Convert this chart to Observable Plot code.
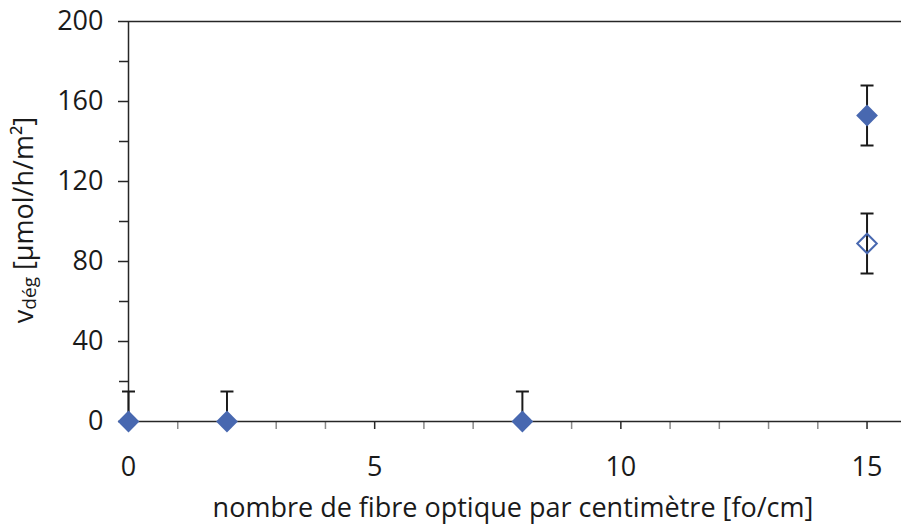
<!DOCTYPE html>
<html><head><meta charset="utf-8">
<script src="https://cdn.jsdelivr.net/npm/d3@7"></script>
<script src="https://cdn.jsdelivr.net/npm/@observablehq/plot@0.6"></script>
<style>
html,body{margin:0;padding:0;background:#fff;}
#chart svg{font-family:"Open Sans",sans-serif;}
</style>
</head><body><div id="chart"></div>
<script>
// Data
const fibres = [0, 2, 8, 15];
const vFilled = [0, 0, 0, 153];
const errPlusFilled = [15, 15, 15, 15];
const errMinusFilled = [0, 0, 0, 15];
const fibresOpen = [15];
const vOpen = [89];
const errOpen = [15];
const yMajorTicks = [0, 40, 80, 120, 160, 200];
const yMinorTicks = [20, 60, 100, 140, 180];
const xMajorTicks = [0, 5, 10, 15];
const xMinorTicks = [1, 2, 3, 4, 6, 7, 8, 9, 11, 12, 13, 14];
const xTitle = "nombre de fibre optique par centimètre [fo/cm]";

const filled = fibres.map((x, i) => ({x, y: vFilled[i], hi: vFilled[i] + errPlusFilled[i], lo: vFilled[i] - errMinusFilled[i]}));
const open = fibresOpen.map((x, i) => ({x, y: vOpen[i], hi: vOpen[i] + errOpen[i], lo: vOpen[i] - errOpen[i]}));
const bars = filled.concat(open);
const caps = [];
bars.forEach(d => { caps.push({x: d.x, y: d.hi}); if (d.lo < d.y) caps.push({x: d.x, y: d.lo}); });

const capSymbol = {draw(ctx, size) { ctx.moveTo(-6.5, 0); ctx.lineTo(6.5, 0); }};
const blue = "#4868B0";
const axisColor = "#262626";
const fs = 27;

const chart = Plot.plot({
  width: 901, height: 526,
  marginLeft: 128, marginRight: 0, marginTop: 21, marginBottom: 105,
  x: {domain: [0, 15.7]},
  y: {domain: [0, 200]},
  style: {fontFamily: "'Open Sans', sans-serif", color: "#1a1a1a", background: "#fff"},
  marks: [
    Plot.axisX(xMinorTicks, {tickSize: 8, stroke: "#8a8a8a", text: null, strokeWidth: 1.5, label: null}),
    Plot.axisX(xMajorTicks, {tickSize: 8, tickPadding: 27, fontSize: fs, stroke: axisColor, strokeWidth: 1.5, label: null}),
    Plot.axisY(yMinorTicks, {tickSize: 9, stroke: axisColor, text: null, strokeWidth: 1.5, label: null}),
    Plot.axisY(yMajorTicks, {tickSize: 10, tickPadding: 15, fontSize: fs, stroke: axisColor, strokeWidth: 1.5, label: null}),
    Plot.ruleY([0], {stroke: axisColor, strokeWidth: 1.5}),
    Plot.ruleY([200], {stroke: axisColor, strokeWidth: 1.5}),
    Plot.ruleX([0], {stroke: axisColor, strokeWidth: 1.5}),
    Plot.ruleX(bars, {x: "x", y1: "lo", y2: "hi", stroke: "#1a1a1a", strokeWidth: 2}),
    Plot.dot(caps, {x: "x", y: "y", symbol: capSymbol, stroke: "#1a1a1a", strokeWidth: 2}),
    Plot.dot(filled, {x: "x", y: "y", symbol: "diamond2", r: 9.8, fill: blue, stroke: "none"}),
    Plot.dot(open, {x: "x", y: "y", symbol: "diamond2", r: 8.8, fill: "none", stroke: blue, strokeWidth: 2})
  ]
});
document.getElementById("chart").appendChild(chart);

const svg = d3.select(chart);
svg.append("text")
  .attr("x", 513).attr("y", 517)
  .attr("text-anchor", "middle")
  .attr("font-size", fs).attr("fill", "#1a1a1a")
  .text(xTitle);
const yt = svg.append("text")
  .attr("transform", "translate(33,220) rotate(-90)")
  .attr("text-anchor", "middle")
  .attr("font-size", fs).attr("fill", "#1a1a1a");
yt.append("tspan").text("v");
yt.append("tspan").attr("font-size", 19).attr("dy", 3).text("dég");
yt.append("tspan").attr("dy", -3).text(" [µmol/h/m²]");
</script></body></html>
